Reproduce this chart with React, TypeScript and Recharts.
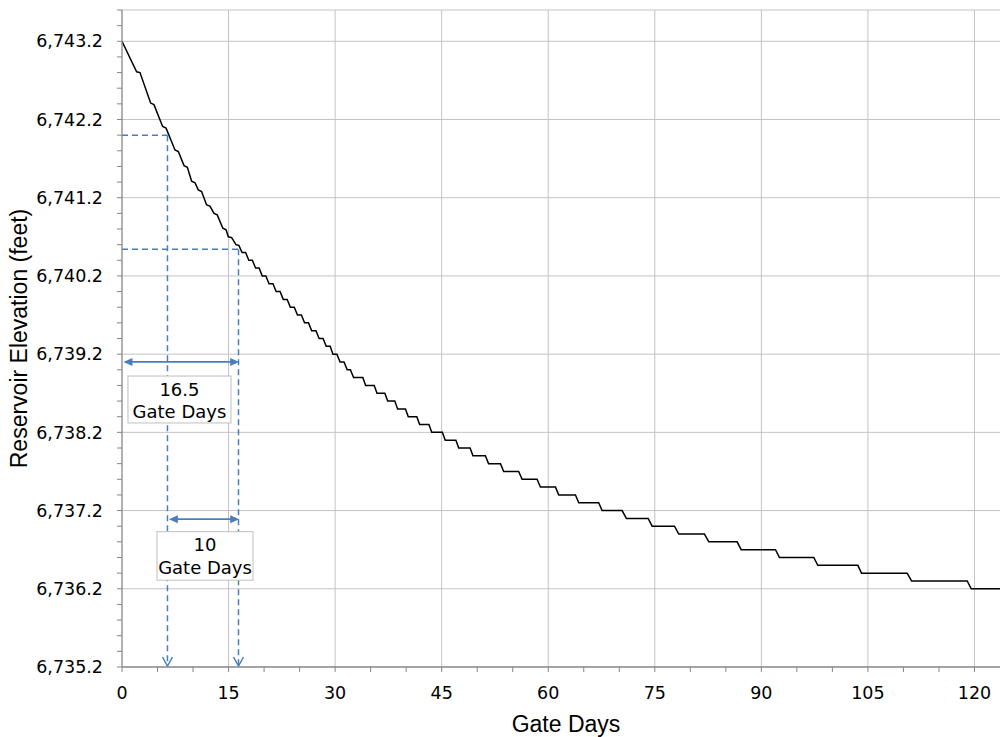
import React from 'react'
import { LineChart, Line, XAxis, YAxis, ReferenceLine, ReferenceArea } from 'recharts'

// early part of the drawdown (small wiggles)
const earlyDays = [0, 2.06, 2.53, 4.03, 4.5, 5.72, 6.2, 7.46, 7.93, 8.73, 9.2, 9.8, 10.28, 10.74, 11.2, 11.9, 12.4, 12.95, 13.4, 14.2, 14.65, 14.97, 15.43, 16.05, 16.45]
const earlyElev = [6743.2, 6742.81, 6742.8, 6742.41, 6742.39, 6742.11, 6742.09, 6741.81, 6741.79, 6741.61, 6741.59, 6741.41, 6741.39, 6741.3, 6741.28, 6741.11, 6741.09, 6741.0, 6740.98, 6740.81, 6740.79, 6740.7, 6740.69, 6740.6, 6740.59]

// staircase part: each level is held from stepStart to stepEnd
const stepLevel = [6740.5, 6740.4, 6740.3, 6740.2, 6740.1, 6740.0, 6739.9, 6739.8, 6739.7, 6739.6, 6739.5, 6739.4, 6739.3, 6739.2, 6739.1, 6739.0, 6738.9, 6738.8, 6738.7, 6738.6, 6738.5, 6738.4, 6738.3, 6738.2, 6738.1, 6738.0, 6737.9, 6737.8, 6737.7, 6737.6, 6737.5, 6737.4, 6737.3, 6737.2, 6737.1, 6737.0, 6736.9, 6736.8, 6736.7, 6736.6, 6736.5, 6736.4, 6736.3, 6736.2]
const stepStart = [16.9, 17.85, 18.8, 19.75, 20.7, 21.7, 22.7, 23.7, 24.7, 25.7, 26.7, 27.75, 28.75, 29.7, 30.7, 31.7, 32.6, 34.3, 35.9, 37.4, 38.8, 40.3, 41.9, 43.6, 45.5, 47.4, 49.4, 51.6, 53.73, 56.32, 58.9, 61.48, 64.3, 67.59, 71.0, 74.63, 78.37, 82.6, 87.16, 92.55, 97.94, 104.1, 111.14, 119.54]
const stepEnd = [17.4, 18.35, 19.3, 20.25, 21.25, 22.25, 23.25, 24.25, 25.25, 26.25, 27.3, 28.3, 29.3, 30.25, 31.25, 32.15, 33.9, 35.5, 37.0, 38.4, 39.9, 41.5, 43.2, 45.1, 47.0, 49.0, 51.15, 53.27, 55.84, 58.43, 61.02, 63.83, 67.1, 70.4, 74.06, 77.77, 81.99, 86.59, 91.99, 97.38, 103.58, 110.53, 118.98, 125]

const xTicks = [0, 5, 10, 15, 20, 25, 30, 35, 40, 45, 50, 55, 60, 65, 70, 75, 80, 85, 90, 95, 100, 105, 110, 115, 120]
const xMajor = [0, 15, 30, 45, 60, 75, 90, 105, 120]
const yTicks = [6735.2, 6735.4, 6735.6, 6735.8, 6736.0, 6736.2, 6736.4, 6736.6, 6736.8, 6737.0, 6737.2, 6737.4, 6737.6, 6737.8, 6738.0, 6738.2, 6738.4, 6738.6, 6738.8, 6739.0, 6739.2, 6739.4, 6739.6, 6739.8, 6740.0, 6740.2, 6740.4, 6740.6, 6740.8, 6741.0, 6741.2, 6741.4, 6741.6, 6741.8, 6742.0, 6742.2, 6742.4, 6742.6, 6742.8, 6743.0, 6743.2, 6743.4, 6743.6]
const yMajor = [6735.2, 6736.2, 6737.2, 6738.2, 6739.2, 6740.2, 6741.2, 6742.2, 6743.2]

// annotation values (gate days / feet)
const openDay = 6.4
const closeDay = 16.4
const openElev = 6742.0
const closeElev = 6740.54
const span1 = { from: 0.2, to: 16.5, elev: 6739.1, text: ['16.5', 'Gate Days'], box: [0.84, 15.34, 6738.92, 6738.32] }
const span2 = { from: 6.6, to: 16.5, elev: 6737.09, text: ['10', 'Gate Days'], box: [4.93, 18.44, 6736.93, 6736.31] }

const data = [
  ...earlyDays.map((d, i) => ({ day: d, elev: earlyElev[i] })),
  ...stepLevel.flatMap((lvl, i) => [
    { day: stepStart[i], elev: lvl },
    { day: stepEnd[i], elev: lvl },
  ]),
]

const BLUE = '#4a7ebb'
const GRID = '#c3c3c3'
const AXIS = '#868686'
const TICK_FONT = 'DejaVu Sans, Verdana, sans-serif'
const TITLE_FONT = 'Liberation Sans, Arial, sans-serif'

const near = (list: number[], v: number) => list.some(m => Math.abs(m - v) < 1e-6)

const fmtX = (v: number) => (near(xMajor, v) ? String(v) : '')
const fmtY = (v: number) =>
  near(yMajor, v) ? v.toLocaleString('en-US', { minimumFractionDigits: 1, maximumFractionDigits: 1 }) : ''

const dashedDrop = (p: any) => (
  <g>
    <line x1={p.x1} y1={p.y1} x2={p.x2} y2={p.y2 - 1} stroke={BLUE} strokeWidth={1.5} strokeDasharray="6 4" />
    <polyline
      points={`${p.x2 - 5},${p.y2 - 10} ${p.x2},${p.y2 - 1} ${p.x2 + 5},${p.y2 - 10}`}
      fill="none"
      stroke={BLUE}
      strokeWidth={1.5}
    />
  </g>
)

const dashedLine = (p: any) => (
  <line x1={p.x1} y1={p.y1} x2={p.x2} y2={p.y2} stroke={BLUE} strokeWidth={1.5} strokeDasharray="6 4" />
)

const doubleArrow = (p: any) => {
  const y = p.y1
  return (
    <g>
      <line x1={p.x1 + 6} y1={y} x2={p.x2 - 6} y2={y} stroke={BLUE} strokeWidth={1.8} />
      <polygon points={`${p.x1},${y} ${p.x1 + 9},${y - 4} ${p.x1 + 9},${y + 4}`} fill={BLUE} />
      <polygon points={`${p.x2},${y} ${p.x2 - 9},${y - 4} ${p.x2 - 9},${y + 4}`} fill={BLUE} />
    </g>
  )
}

const labelBox = (lines: string[]) => (p: any) => (
  <g>
    <rect x={p.x} y={p.y} width={p.width} height={p.height} fill="#fff" stroke="#bfbfbf" strokeWidth={1} />
    <text x={p.x + p.width / 2} y={p.y + 13} textAnchor="middle" dominantBaseline="central"
      fontFamily={TICK_FONT} fontSize={18} fill="#000">{lines[0]}</text>
    <text x={p.x + p.width / 2} y={p.y + 35.5} textAnchor="middle" dominantBaseline="central"
      fontFamily={TICK_FONT} fontSize={18} fill="#000">{lines[1]}</text>
  </g>
)

const xTitle = (props: any) => {
  const vb = props.viewBox || { x: 122, y: 667, width: 888, height: 70 }
  return (
    <text x={vb.x + vb.width / 2} y={732} textAnchor="middle" fontFamily={TITLE_FONT} fontSize={23} fill="#000">
      Gate Days
    </text>
  )
}

const yTitle = (props: any) => {
  const vb = props.viewBox || { x: 0, y: 10, width: 122, height: 657 }
  const cx = 19
  const cy = vb.y + vb.height / 2
  return (
    <text x={cx} y={cy} transform={`rotate(-90, ${cx}, ${cy})`} textAnchor="middle" dominantBaseline="central"
      fontFamily={TITLE_FONT} fontSize={23} fill="#000">
      Reservoir Elevation (feet)
    </text>
  )
}

export default function App() {
  return (
    <div style={{ position: 'absolute', left: 0, top: 0, width: 1000, height: 737, overflow: 'hidden', background: '#fff' }}>
      <LineChart width={1010} height={737} data={data} margin={{ top: 10, right: 0, bottom: 0, left: 0 }}>
        {/* major gridlines */}
        {xMajor.filter(v => v > 0).map(v => (
          <ReferenceLine key={'gx' + v} x={v} stroke={GRID} strokeWidth={1} zIndex={-100} />
        ))}
        {[...yMajor.filter(v => v > 6735.2), 6743.6].map(v => (
          <ReferenceLine key={'gy' + v} y={v} stroke={GRID} strokeWidth={1} zIndex={-100} />
        ))}

        <XAxis
          dataKey="day"
          type="number"
          domain={[0, 125]}
          allowDataOverflow
          ticks={xTicks}
          interval={0}
          tickSize={5}
          tickMargin={15}
          tickFormatter={fmtX}
          tick={{ fontFamily: TICK_FONT, fontSize: 17.5, fill: '#000' }}
          axisLine={{ stroke: AXIS, strokeWidth: 1.3 }}
          tickLine={{ stroke: AXIS }}
          height={70}
          label={{ content: xTitle }}
        />
        <YAxis
          type="number"
          domain={[6735.2, 6743.6]}
          allowDataOverflow
          ticks={yTicks}
          interval={0}
          width={122}
          tickSize={5}
          tickMargin={14}
          tickFormatter={fmtY}
          tick={{ fontFamily: TICK_FONT, fontSize: 17.5, fill: '#000' }}
          axisLine={{ stroke: AXIS, strokeWidth: 1.3 }}
          tickLine={{ stroke: AXIS }}
          label={{ content: yTitle }}
        />

        <Line
          type="linear"
          dataKey="elev"
          stroke="#000"
          strokeWidth={1.5}
          dot={false}
          activeDot={false}
          isAnimationActive={false}
        />

        {/* gate-open / gate-close guides */}
        <ReferenceLine ifOverflow="visible" zIndex={450}
          segment={[{ x: 0, y: openElev }, { x: openDay, y: openElev }]} shape={dashedLine} />
        <ReferenceLine ifOverflow="visible" zIndex={450}
          segment={[{ x: 0, y: closeElev }, { x: closeDay, y: closeElev }]} shape={dashedLine} />
        <ReferenceLine ifOverflow="visible" zIndex={450}
          segment={[{ x: openDay, y: openElev }, { x: openDay, y: 6735.2 }]} shape={dashedDrop} />
        <ReferenceLine ifOverflow="visible" zIndex={450}
          segment={[{ x: closeDay, y: closeElev }, { x: closeDay, y: 6735.2 }]} shape={dashedDrop} />

        {[span1, span2].map((s, i) => (
          <ReferenceLine key={'arr' + i} ifOverflow="visible" zIndex={450}
            segment={[{ x: s.from, y: s.elev }, { x: s.to, y: s.elev }]} shape={doubleArrow} />
        ))}
        {[span1, span2].map((s, i) => (
          <ReferenceArea key={'box' + i} ifOverflow="visible" zIndex={460}
            x1={s.box[0]} x2={s.box[1]} y1={s.box[2]} y2={s.box[3]} shape={labelBox(s.text)} />
        ))}
      </LineChart>
    </div>
  )
}
